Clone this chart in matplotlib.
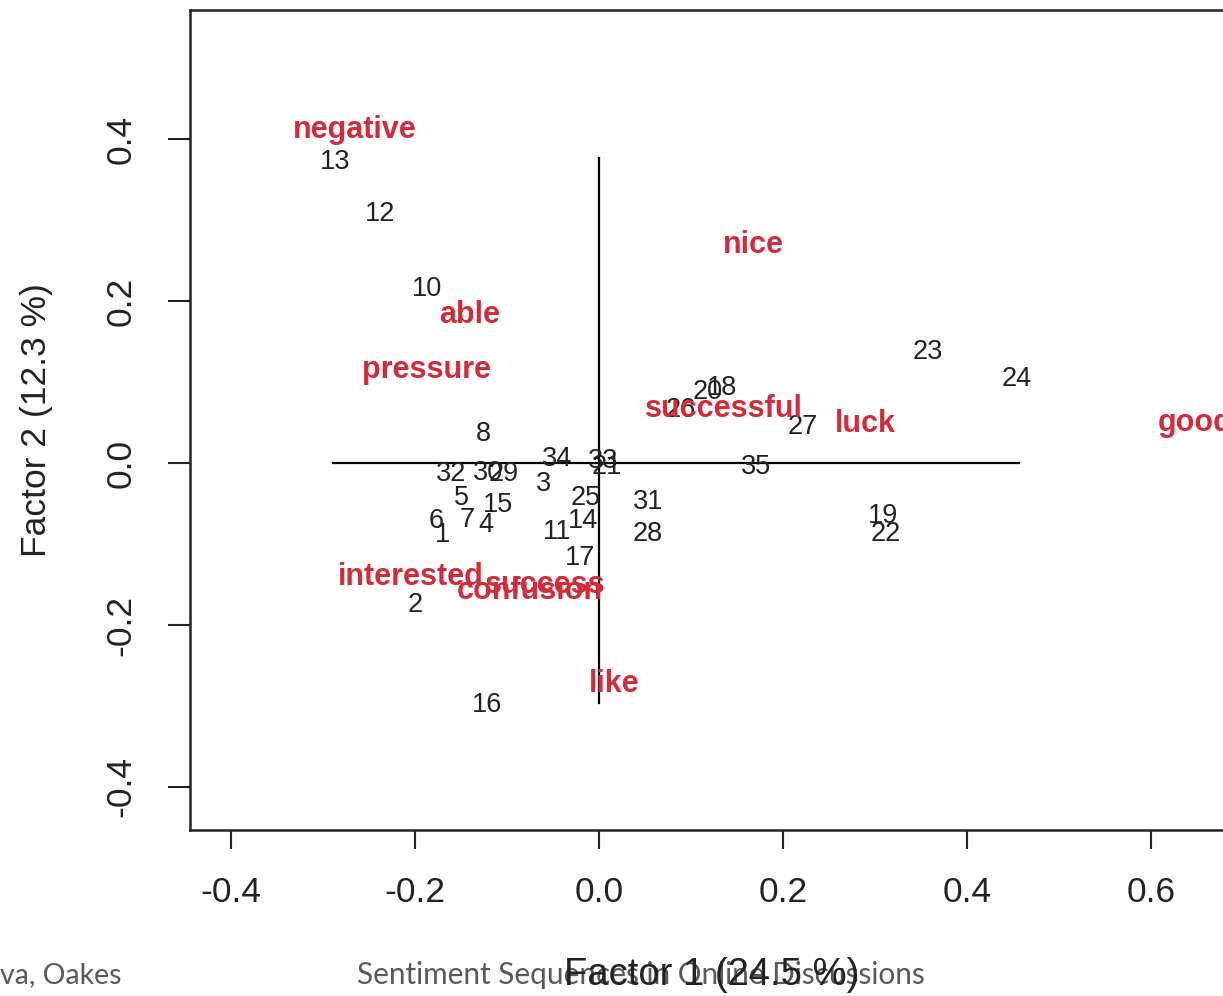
import matplotlib
matplotlib.use("Agg")
import matplotlib.pyplot as plt

plt.rcParams["font.family"] = ["Liberation Sans", "DejaVu Sans"]

# Row points (documents), labelled by number
row_labels = ["13", "12", "10", "23", "24", "20", "18", "26", "27", "8", "34", "33", "21",
              "35", "32", "30", "29", "3", "5", "15", "25", "31", "14", "6", "7", "4",
              "1", "11", "28", "19", "22", "17", "2", "16"]
row_x = [-0.287, -0.238, -0.187, 0.357, 0.454, 0.118, 0.134, 0.089, 0.221, -0.126, -0.046, 0.005, 0.008,
         0.171, -0.161, -0.121, -0.104, -0.060, -0.150, -0.110, -0.015, 0.053, -0.017, -0.177, -0.143, -0.123,
         -0.170, -0.046, 0.053, 0.309, 0.312, -0.021, -0.200, -0.122]
row_y = [0.372, 0.307, 0.215, 0.137, 0.104, 0.088, 0.093, 0.065, 0.044, 0.036, 0.005, 0.002, -0.005,
         -0.005, -0.014, -0.012, -0.014, -0.026, -0.043, -0.052, -0.043, -0.048, -0.072, -0.072, -0.070, -0.077,
         -0.089, -0.085, -0.088, -0.065, -0.088, -0.117, -0.175, -0.299]

# Column points (sentiment words)
word_labels = ["negative", "nice", "able", "pressure", "successful", "luck", "good",
               "interested", "success", "confusion", "like"]
word_x = [-0.266, 0.168, -0.141, -0.188, 0.136, 0.289, 0.648, -0.205, -0.059, -0.075, 0.017]
word_y = [0.411, 0.269, 0.183, 0.115, 0.067, 0.048, 0.049, -0.141, -0.151, -0.158, -0.273]

# cross lines through the origin
h_range = [-0.289, 0.4565]
v_range = [-0.296, 0.3765]

x_ticks = [-0.4, -0.2, 0.0, 0.2, 0.4, 0.6]
y_ticks = [-0.4, -0.2, 0.0, 0.2, 0.4]

W, H = 1223, 996
fig = plt.figure(figsize=(W / 100, H / 100), dpi=100)
ax = fig.add_axes([190 / W, (H - 830) / H, (1234 - 190) / W, 820 / H])
ax.set_xlim(-0.4446, 0.6902)
ax.set_ylim(-0.4531, 0.5593)

for s in ax.spines.values():
    s.set_linewidth(1.8)
    s.set_color("#222222")

ax.set_xticks(x_ticks)
ax.set_xticklabels(["%.1f" % t for t in x_ticks])
ax.set_yticks(y_ticks)
ax.set_yticklabels(["%.1f" % t for t in y_ticks], rotation=90, va="center")
ax.tick_params(axis="x", length=14, width=1.5, pad=19, labelsize=25.5, colors="#222222")
ax.tick_params(axis="y", length=16, width=1.5, pad=22, labelsize=25.5, colors="#222222")
for lab in ax.get_yticklabels():
    lab.set_verticalalignment("center")

ax.plot(h_range, [0, 0], color="black", lw=1.6)
ax.plot([0, 0], v_range, color="black", lw=1.6)

for lab, x, y in zip(row_labels, row_x, row_y):
    ax.text(x, y, lab, ha="center", va="center", fontsize=19.5, color="#222222")

for lab, x, y in zip(word_labels, word_x, word_y):
    ax.text(x, y, lab, ha="center", va="center", fontsize=22, color="#d42a3a",
            fontweight="bold")

# slide footer underneath the x label
fig.text(0 / W, 1 - 975 / H, "va, Oakes", ha="left", va="center", fontsize=20.5,
         color="#595959", family="Lato")
fig.text(357 / W, 1 - 975 / H, "Sentiment Sequences in Online Discussions", ha="left",
         va="center", fontsize=21.4, color="#595959", family="Lato")

fig.text(712 / W, 1 - 975 / H, "Factor 1 (24.5 %)", ha="center", va="center", fontsize=27.5,
         color="#222222")
fig.text(37 / W, 1 - 420 / H, "Factor 2 (12.3 %)", ha="center", va="center", fontsize=25.5,
         color="#222222", rotation=90)

fig.savefig("out.png", dpi=100)
